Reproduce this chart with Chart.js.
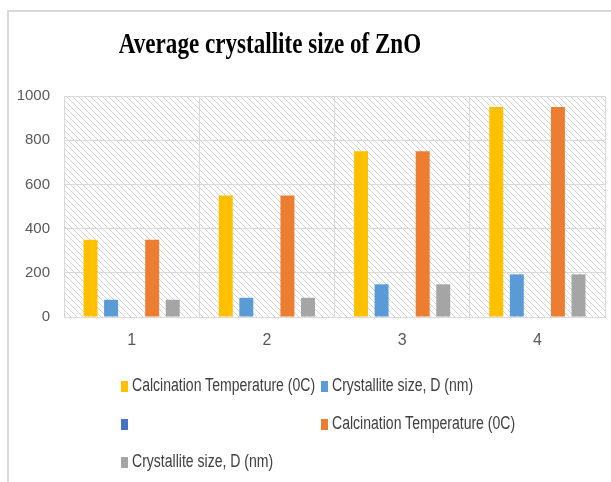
<!DOCTYPE html>
<html>
<head>
<meta charset="utf-8">
<script src="https://cdn.jsdelivr.net/npm/chart.js@4"></script>
<style>
  html, body { margin: 0; background: #fff; overflow: hidden; }
  #wrap { position: relative; width: 611px; height: 482px; overflow: hidden; }
  #myChart { display: block; }
  #legend {
    position: absolute; left: 121px; top: 375px;
    display: grid; grid-template-columns: 200px 260px; row-gap: 18px;
    font-family: "Liberation Sans", Arial, sans-serif;
    font-size: 18px; color: #404040;
  }
  #legend div { height: 20px; line-height: 20px; white-space: nowrap; }
  #legend span.box {
    display: inline-block; width: 7px; height: 11px; margin-right: 4px; vertical-align: -1px;
  }
  #legend span.txt { display: inline-block; transform: scaleX(0.78); transform-origin: left center; }
</style>
</head>
<body>
<div id="wrap">
  <canvas id="myChart" width="611" height="482"></canvas>
  <div id="legend"></div>
</div>
<script>
// data
const labels = ["1", "2", "3", "4"];
const calcTemp = [350, 550, 750, 950];
const crystSize = [78, 87, 148, 193];
const blank = [0, 0, 0, 0];
const calcTemp2 = [350, 550, 750, 950];
const crystSize2 = [78, 87, 148, 193];
const yTicks = [0, 200, 400, 600, 800, 1000];

// hatch pattern for the plot area
function makeHatch() {
  const c = document.createElement("canvas");
  c.width = 6;
  c.height = 6;
  const g = c.getContext("2d");
  g.strokeStyle = "#d4d4d4";
  g.lineWidth = 1;
  g.beginPath();
  g.moveTo(-1, -1); g.lineTo(7, 7);
  g.moveTo(-1, 5); g.lineTo(1, 7);
  g.moveTo(5, -1); g.lineTo(7, 1);
  g.stroke();
  return g.createPattern(c, "repeat");
}

const hatchPlugin = {
  id: "hatch",
  beforeDraw(chart) {
    const { ctx, chartArea: a } = chart;
    ctx.save();
    // outer frame, only top and left edges show
    ctx.strokeStyle = "#d9d9d9";
    ctx.lineWidth = 2;
    ctx.beginPath();
    ctx.moveTo(8, chart.height);
    ctx.lineTo(8, 11);
    ctx.lineTo(chart.width, 11);
    ctx.stroke();
    ctx.fillStyle = makeHatch();
    ctx.fillRect(a.left, a.top, a.right - a.left, a.bottom - a.top);
    ctx.restore();
  },
};

// title drawn a bit squeezed, like the picture
const titlePlugin = {
  id: "squeezedTitle",
  afterDraw(chart) {
    const ctx = chart.ctx;
    ctx.save();
    ctx.font = "bold 30px 'Liberation Serif', 'DejaVu Serif', serif";
    ctx.fillStyle = "#000";
    ctx.textAlign = "center";
    ctx.textBaseline = "alphabetic";
    ctx.translate(270, 53);
    ctx.scale(0.77, 1);
    ctx.fillText("Average crystallite size of ZnO", 0, 0);
    ctx.restore();
  },
};

// setup
const data = {
  labels: labels,
  datasets: [
    { label: "Calcination Temperature (0C)", data: calcTemp, backgroundColor: "#FFC000" },
    { label: "Crystallite size, D (nm)", data: crystSize, backgroundColor: "#5B9BD5" },
    { label: "", data: blank, backgroundColor: "#4472C4" },
    { label: "Calcination Temperature (0C)", data: calcTemp2, backgroundColor: "#ED7D31" },
    { label: "Crystallite size, D (nm)", data: crystSize2, backgroundColor: "#A5A5A5" },
  ],
};

// config
const config = {
  type: "bar",
  data,
  plugins: [hatchPlugin, titlePlugin],
  options: {
    responsive: false,
    animation: false,
    datasets: { bar: { categoryPercentage: 0.76, barPercentage: 0.68 } },
    layout: { padding: { top: 96, right: 6, bottom: 125, left: 0 } },
    plugins: {
      legend: { display: false },
      title: { display: false },
      tooltip: { enabled: false },
    },
    scales: {
      x: {
        offset: true,
        grid: { offset: true, color: "#d9d9d9", drawTicks: false },
        border: { color: "#d9d9d9" },
        ticks: { color: "#595959", font: { family: "'Liberation Sans', Arial, sans-serif", size: 16 }, padding: 14 },
        afterFit(scale) { scale.height = 40; },
      },
      y: {
        min: 0,
        max: 1000,
        afterBuildTicks(scale) { scale.ticks = yTicks.map((v) => ({ value: v })); },
        grid: { color: "#d9d9d9", drawTicks: false },
        border: { color: "#d9d9d9" },
        ticks: {
          color: "#595959",
          font: { family: "'Liberation Sans', Arial, sans-serif", size: 15 },
          padding: 14,
          callback: (v) => String(v),
        },
        afterFit(scale) { scale.width = 64; },
      },
    },
  },
};

// render init block
const myChart = new Chart(document.getElementById("myChart"), config);

// legend in two columns, built from the datasets
const legendBox = document.getElementById("legend");
myChart.data.datasets.forEach((ds) => {
  const item = document.createElement("div");
  const box = document.createElement("span");
  box.className = "box";
  box.style.background = ds.backgroundColor;
  const txt = document.createElement("span");
  txt.className = "txt";
  txt.textContent = ds.label;
  item.appendChild(box);
  item.appendChild(txt);
  legendBox.appendChild(item);
});
</script>
</body>
</html>
